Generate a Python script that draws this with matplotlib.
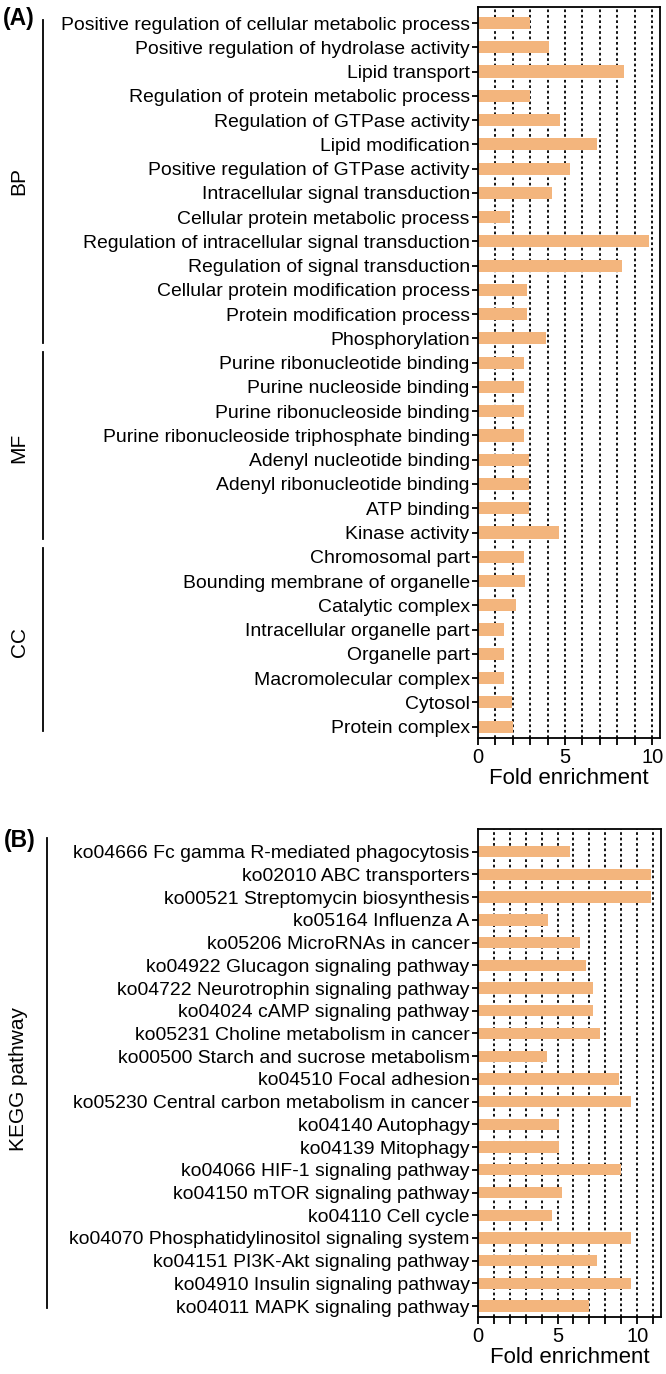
import matplotlib

matplotlib.use("Agg")
import matplotlib.pyplot as plt
from matplotlib.lines import Line2D
from matplotlib.transforms import blended_transform_factory
from matplotlib.ticker import MultipleLocator

plt.rcParams["font.family"] = ["Liberation Sans", "DejaVu Sans"]

GO_TERMS = [
    "Positive regulation of cellular metabolic process",
    "Positive regulation of hydrolase activity",
    "Lipid transport",
    "Regulation of protein metabolic process",
    "Regulation of GTPase activity",
    "Lipid modification",
    "Positive regulation of GTPase activity",
    "Intracellular signal transduction",
    "Cellular protein metabolic process",
    "Regulation of intracellular signal transduction",
    "Regulation of signal transduction",
    "Cellular protein modification process",
    "Protein modification process",
    "Phosphorylation",
    "Purine ribonucleotide binding",
    "Purine nucleoside binding",
    "Purine ribonucleoside binding",
    "Purine ribonucleoside triphosphate binding",
    "Adenyl nucleotide binding",
    "Adenyl ribonucleotide binding",
    "ATP binding",
    "Kinase activity",
    "Chromosomal part",
    "Bounding membrane of organelle",
    "Catalytic complex",
    "Intracellular organelle part",
    "Organelle part",
    "Macromolecular complex",
    "Cytosol",
    "Protein complex",
]
GO_FOLD = [
    3.0, 4.1, 8.4, 3.0, 4.73, 6.84, 5.27, 4.23, 1.84, 9.79,
    8.29, 2.83, 2.83, 3.91, 2.63, 2.63, 2.63, 2.65, 2.93, 2.93,
    2.93, 4.66, 2.65, 2.69, 2.2, 1.49, 1.49, 1.49, 1.94, 2.01,
]
# (label, first row, last row)
GO_GROUPS = [("BP", 0, 13), ("MF", 14, 21), ("CC", 22, 29)]

KEGG_TERMS = [
    "ko04666 Fc gamma R-mediated phagocytosis",
    "ko02010 ABC transporters",
    "ko00521 Streptomycin biosynthesis",
    "ko05164 Influenza A",
    "ko05206 MicroRNAs in cancer",
    "ko04922 Glucagon signaling pathway",
    "ko04722 Neurotrophin signaling pathway",
    "ko04024 cAMP signaling pathway",
    "ko05231 Choline metabolism in cancer",
    "ko00500 Starch and sucrose metabolism",
    "ko04510 Focal adhesion",
    "ko05230 Central carbon metabolism in cancer",
    "ko04140 Autophagy",
    "ko04139 Mitophagy",
    "ko04066 HIF-1 signaling pathway",
    "ko04150 mTOR signaling pathway",
    "ko04110 Cell cycle",
    "ko04070 Phosphatidylinositol signaling system",
    "ko04151 PI3K-Akt signaling pathway",
    "ko04910 Insulin signaling pathway",
    "ko04011 MAPK signaling pathway",
]
KEGG_FOLD = [
    5.78, 10.86, 10.86, 4.37, 6.41, 6.79, 7.25, 7.25, 7.69, 4.35, 8.88,
    9.64, 5.08, 5.08, 9.01, 5.31, 4.64, 9.64, 7.5, 9.64, 7.0,
]
KEGG_GROUPS = [("KEGG pathway", 0, 20)]

BAR_COLOR = "#F3B57D"
W, H = 666, 1374


def panel(fig, rect, terms, values, xmax, ylim, groups, group_x, line_x, pad):
    x0, top, x1, bottom = rect
    ax = fig.add_axes([x0 / W, 1 - bottom / H, (x1 - x0) / W, (bottom - top) / H])
    y = list(range(len(terms)))
    ax.barh(y, values, height=0.5, color=BAR_COLOR, zorder=2)
    ax.set_yticks(y)
    ax.set_yticklabels(terms, fontsize=13.95)
    ax.set_ylim(*ylim)
    ax.set_xlim(0, xmax)
    ax.xaxis.set_major_locator(MultipleLocator(5))
    ax.xaxis.set_minor_locator(MultipleLocator(1))
    for v in range(1, int(xmax) + 1):
        ax.axvline(v, color="black", linestyle=(0, (1.5, 1.5)), linewidth=1.3, zorder=1)
    ax.tick_params(axis="x", which="major", labelsize=14.5, length=5, width=1.3, pad=2)
    ax.tick_params(axis="x", which="minor", length=5, width=1.3)
    ax.tick_params(axis="y", length=4, width=1.3, pad=2)
    for s in ax.spines.values():
        s.set_linewidth(1.3)
    ax.set_xlabel("Fold enrichment", fontsize=16, labelpad=1)

    trans = blended_transform_factory(fig.transFigure, ax.transData)
    for (name, first, last), (a, b) in zip(groups, pad):
        fig.add_artist(Line2D([line_x / W, line_x / W], [first - a, last + b],
                              transform=trans, color="black", linewidth=1.3))
        ax.text(group_x / W, (first + last) / 2, name, transform=trans,
                rotation=90, ha="center", va="center", fontsize=15)
    return ax


fig = plt.figure(figsize=(W / 100, H / 100), dpi=100)

panel(fig, (478, 7, 660, 738), GO_TERMS, GO_FOLD, 10.45, (29.47, -0.66),
      GO_GROUPS, 19, 43, [(0.12, 0.2), (0.45, 0.27), (0.37, 0.2)])
panel(fig, (478, 829, 661, 1317), KEGG_TERMS, KEGG_FOLD, 11.5, (20.48, -1.0),
      KEGG_GROUPS, 19, 47, [(0.6, 0.1)])

fig.text(3 / W, 1 - 18 / H, "(A)", fontsize=16.5, fontweight="bold", va="center")
fig.text(4 / W, 1 - 840 / H, "(B)", fontsize=16.5, fontweight="bold", va="center")

fig.savefig("out.png", dpi=100)
